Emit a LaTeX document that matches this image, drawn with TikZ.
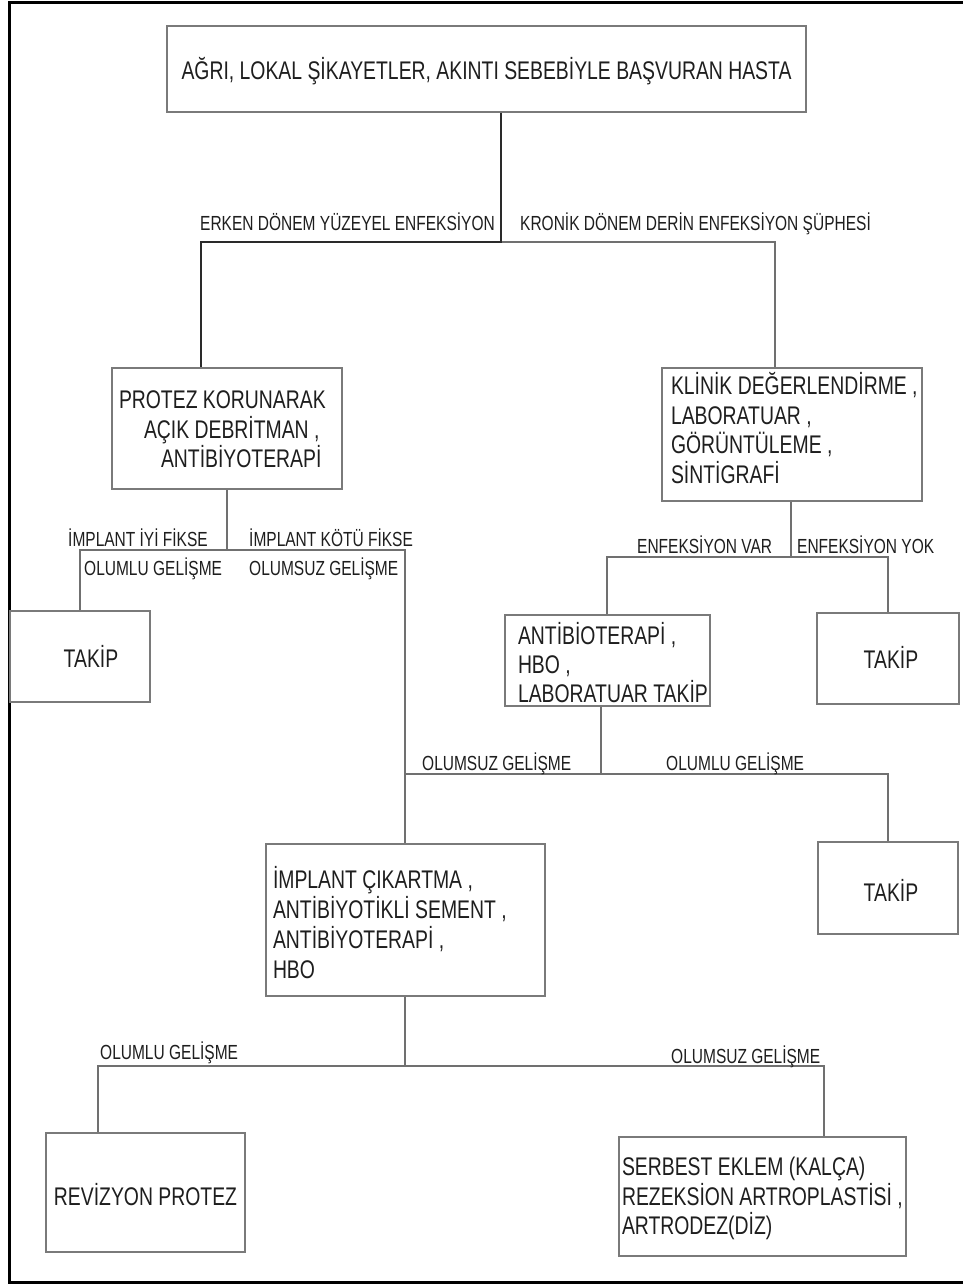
\documentclass[tikz,border=0pt]{standalone}
\usepackage{fontspec}
\setmainfont{Liberation Sans}[FakeStretch=0.76]
\definecolor{bx}{HTML}{7A7A7A}
\definecolor{cn}{HTML}{707070}
\definecolor{dk}{HTML}{2A2A2A}
\definecolor{tx}{HTML}{1E1E1E}
\newcommand\BL[3]{\hbox to #1pt{\kern#2pt\relax#3\hss}}
\newcommand\VB[2]{\vtop{\baselineskip=#1pt\lineskiplimit=-1000pt\lineskip=0pt #2}}
\tikzset{
  box/.style={draw=bx, line width=1.3pt, inner sep=0pt, text=tx, font=\fontsize{25.5}{30}\selectfont},
  lab/.style={inner sep=0pt, anchor=base west, text=tx, font=\fontsize{20.4}{25}\selectfont},
  ln/.style={draw=cn, line width=1.3pt},
  dkln/.style={draw=dk, line width=2pt},
}
\begin{document}
\begin{tikzpicture}[x=1pt,y=-1pt]
\useasboundingbox (0,0) rectangle (963,1284);
\fill[white] (0,0) rectangle (963,1284);
\draw[black, line width=3pt] (963,3) -- (9,3) -- (9,1282) -- (963,1282);

% boxes
\node[box, minimum width=639pt, minimum height=86pt, text height=22pt, text depth=0pt] (title) at (486.5,69)
  {AĞRI, LOKAL ŞİKAYETLER, AKINTI SEBEBİYLE BAŞVURAN HASTA};
\node[box, minimum width=230pt, minimum height=121pt, text height=0pt, text depth=40pt] (protez) at (227,428.5)
  {\VB{29.5}{\BL{230}{7}{PROTEZ KORUNARAK}\BL{230}{32}{AÇIK DEBRİTMAN ,}\BL{230}{49}{ANTİBİYOTERAPİ}}};
\node[box, minimum width=260pt, minimum height=133pt, text height=0pt, text depth=80pt] (klinik) at (792,434.5)
  {\VB{29.5}{\BL{260}{9}{KLİNİK DEĞERLENDİRME ,}\BL{260}{9}{LABORATUAR ,}\BL{260}{9}{GÖRÜNTÜLEME ,}\BL{260}{9}{SİNTİGRAFİ}}};
\node[box, minimum width=140pt, minimum height=91pt, text height=21.6pt, text depth=0pt] (takipL) at (80,656.5)
  {\kern22pt TAKİP};
\node[box, minimum width=205pt, minimum height=91pt, text height=0pt, text depth=33pt] (antibio) at (607.5,660.5)
  {\VB{29}{\BL{205}{13}{ANTİBİOTERAPİ ,}\BL{205}{13}{HBO ,}\BL{205}{13}{LABORATUAR TAKİP}}};
\node[box, minimum width=142pt, minimum height=91pt, text height=19.6pt, text depth=0pt] (takipR1) at (888,658.5)
  {\kern6pt TAKİP};
\node[box, minimum width=279pt, minimum height=152pt, text height=0pt, text depth=64pt] (implant) at (405.5,920)
  {\VB{30}{\BL{279}{7}{İMPLANT ÇIKARTMA ,}\BL{279}{7}{ANTİBİYOTİKLİ SEMENT ,}\BL{279}{7}{ANTİBİYOTERAPİ ,}\BL{279}{7}{HBO}}};
\node[box, minimum width=140pt, minimum height=92pt, text height=26.6pt, text depth=0pt] (takipR2) at (888,888)
  {\kern6pt TAKİP};
\node[box, minimum width=199pt, minimum height=119pt, text height=25.6pt, text depth=0pt] (revizyon) at (145.5,1192.5)
  {REVİZYON PROTEZ};
\node[box, minimum width=287pt, minimum height=119pt, text height=0pt, text depth=42pt] (serbest) at (762.5,1196.5)
  {\VB{29.5}{\BL{287}{3}{SERBEST EKLEM (KALÇA)}\BL{287}{3}{REZEKSİON ARTROPLASTİSİ ,}\BL{287}{3}{ARTRODEZ(DİZ)}}};

% junction points
\coordinate (j1) at (501,242);
\coordinate (jL) at (201,242);
\coordinate (jR) at (775,242);
\coordinate (j2) at (227,550);
\coordinate (j2L) at (80,550);
\coordinate (j2R) at (405,550);
\coordinate (j3) at (791,557);
\coordinate (j3L) at (607,557);
\coordinate (j3R) at (888,557);
\coordinate (j4) at (601,774);
\coordinate (j4L) at (405,774);
\coordinate (j4R) at (888,774);
\coordinate (j5) at (405,1066);
\coordinate (j5L) at (98,1066);
\coordinate (j5R) at (824,1066);

% connectors
\draw[ln] (j1) -- (jR) -- (jR |- klinik.north);
\draw[dkln] (title.south -| j1) -- (j1) -- (jL) -- (jL |- protez.north);
\draw[ln] (protez.south -| j2) -- (j2);
\draw[ln] (j2L |- takipL.north) -- (j2L) -- (j2R) -- (j2R |- implant.north);
\draw[ln] (klinik.south -| j3) -- (j3);
\draw[ln] (j3L |- antibio.north) -- (j3L) -- (j3R) -- (j3R |- takipR1.north);
\draw[ln] (antibio.south -| j4) -- (j4);
\draw[ln] (j4L) -- (j4R) -- (j4R |- takipR2.north);
\draw[ln] (implant.south -| j5) -- (j5);
\draw[ln] (j5L |- revizyon.north) -- (j5L) -- (j5R) -- (j5R |- serbest.north);

% labels
\node[lab] (l1) at (200,230) {ERKEN DÖNEM YÜZEYEL ENFEKSİYON};
\node[lab] (l2) at (520,230) {KRONİK DÖNEM DERİN ENFEKSİYON ŞÜPHESİ};
\node[lab] (l3) at (68,546) {İMPLANT İYİ FİKSE};
\node[lab] (l4) at (249,546) {İMPLANT KÖTÜ FİKSE};
\node[lab] (l5) at (84,575) {OLUMLU GELİŞME};
\node[lab] (l6) at (249,575) {OLUMSUZ GELİŞME};
\node[lab] (l7) at (637,553) {ENFEKSİYON VAR};
\node[lab] (l8) at (797,553) {ENFEKSİYON YOK};
\node[lab] (l9) at (422,770) {OLUMSUZ GELİŞME};
\node[lab] (l10) at (666,770) {OLUMLU GELİŞME};
\node[lab] (l11) at (100,1059) {OLUMLU GELİŞME};
\node[lab] (l12) at (671,1063) {OLUMSUZ GELİŞME};
\end{tikzpicture}
\end{document}
